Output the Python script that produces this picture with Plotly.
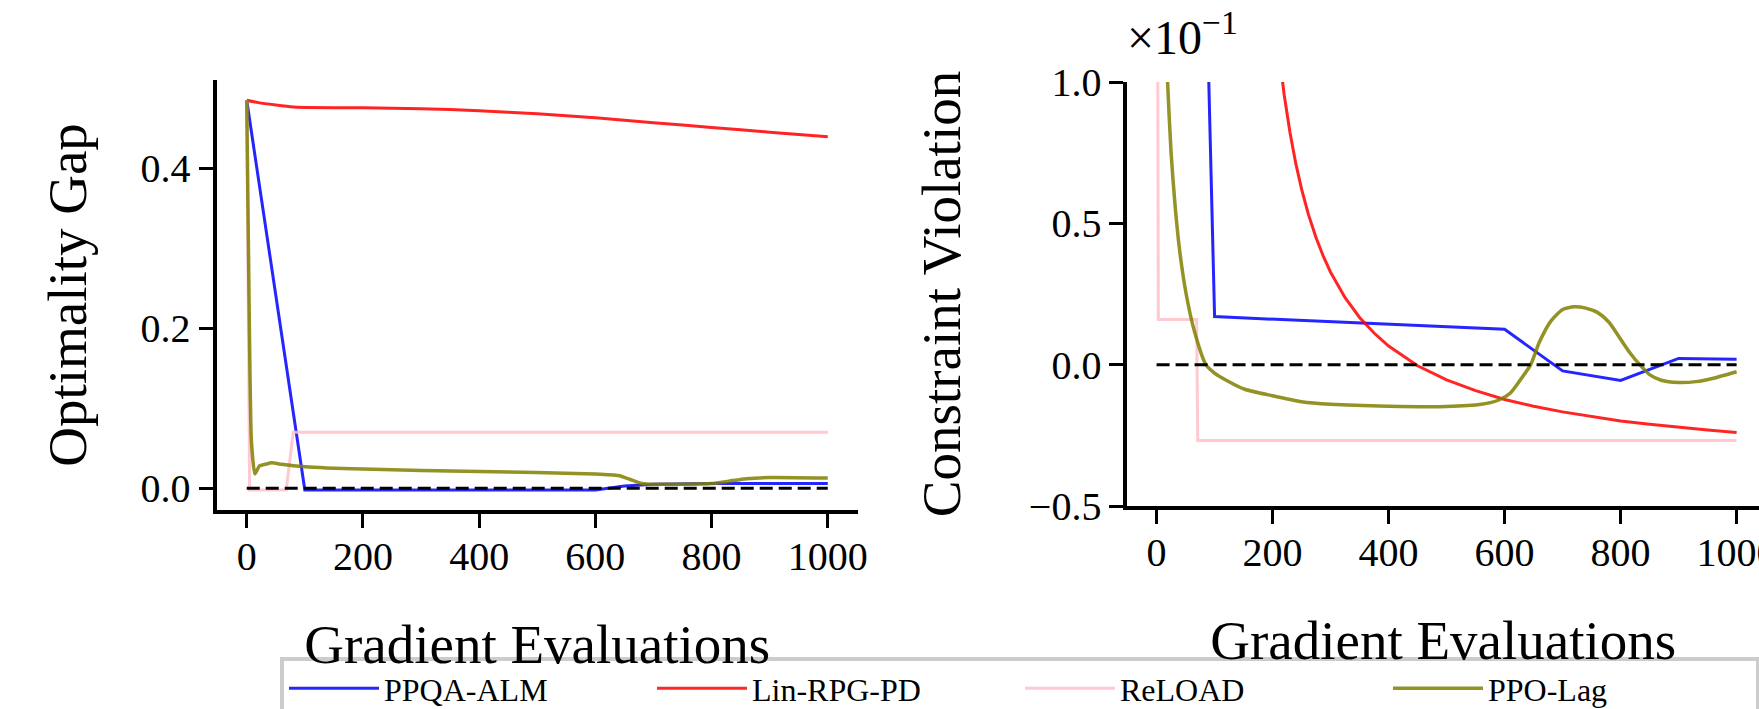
import plotly.graph_objects as go

# ---------------- data ----------------
series_names = ["PPQA-ALM", "Lin-RPG-PD", "ReLOAD", "PPO-Lag"]
series_colors = ["blue", "red", "pink", "olive"]

# Left panel: Optimality Gap
gap_blue_x = [0, 100, 600, 650, 700, 800, 900, 1000]
gap_blue_y = [0.485, -0.002, -0.002, 0.003, 0.005, 0.006, 0.006, 0.006]

gap_red_x = [0, 20, 50, 80, 100, 200, 300, 400, 500, 600, 700, 800, 900, 1000]
gap_red_y = [0.485, 0.482, 0.479, 0.4765, 0.476, 0.4755, 0.4745, 0.472, 0.468, 0.463, 0.457, 0.451, 0.445, 0.4395]

gap_pink_x = [0, 5, 68, 80, 1000]
gap_pink_y = [0.485, -0.002, -0.002, 0.07, 0.07]

gap_olive_x = [0, 3, 8, 14, 22, 32, 43, 60, 100, 200, 400, 600, 640, 660, 680, 700, 800, 830, 860, 900, 1000]
gap_olive_y = [0.485, 0.30, 0.06, 0.018, 0.028, 0.030, 0.032, 0.030, 0.027, 0.024, 0.021, 0.018, 0.016, 0.011,
               0.006, 0.005, 0.006, 0.009, 0.012, 0.0135, 0.0128]

# Right panel: Constraint Violation (values in units of 1e-1)
cv_blue_x = [0, 100, 600, 700, 800, 900, 1000]
cv_blue_y = [8.5, 0.17, 0.125, -0.022, -0.056, 0.022, 0.019]

cv_red_x = [100, 150, 180, 200, 210, 220, 230, 240, 250, 262, 275, 287, 300, 325, 350, 375, 400, 450, 500,
            550, 600, 650, 700, 750, 800, 850, 900, 950, 1000]
cv_red_y = [9.0, 5.7, 2.02, 1.34, 1.12, 0.955, 0.821, 0.712, 0.621, 0.530, 0.449, 0.386, 0.327, 0.237, 0.167,
            0.112, 0.066, -0.004, -0.054, -0.092, -0.123, -0.147, -0.167, -0.184, -0.199, -0.211, -0.222,
            -0.231, -0.240]

cv_pink_x = [0, 3, 69, 71, 1000]
cv_pink_y = [3.0, 0.16, 0.16, -0.268, -0.268]

cv_olive_x = [0, 10, 19, 25, 32, 40, 51, 65, 85, 100, 120, 152, 200, 250, 300, 400, 500, 560, 590, 610,
              625, 645, 660, 680, 700, 720, 740, 760, 780, 800, 815, 833, 850, 870, 900, 930, 960, 1000]
cv_olive_y = [3.0, 1.7, 1.0, 0.75, 0.56, 0.4, 0.25, 0.12, 0.0, -0.03, -0.055, -0.087, -0.11, -0.131, -0.14,
              -0.147, -0.148, -0.14, -0.125, -0.1, -0.06, 0.0, 0.08, 0.155, 0.195, 0.205, 0.2, 0.185, 0.15,
              0.09, 0.045, 0.0, -0.035, -0.055, -0.063, -0.06, -0.048, -0.025]

ref_x = [0, 1000]
ref_y = [0, 0]

gap_ticks = [0.0, 0.2, 0.4]
cv_ticks = [-0.5, 0.0, 0.5, 1.0]
x_ticks = [0, 200, 400, 600, 800, 1000]

# ---------------- figure ----------------
W, H = 1759, 709
fig = go.Figure()

left = [(gap_blue_x, gap_blue_y), (gap_red_x, gap_red_y), (gap_pink_x, gap_pink_y), (gap_olive_x, gap_olive_y)]
right = [(cv_blue_x, cv_blue_y), (cv_red_x, cv_red_y), (cv_pink_x, cv_pink_y), (cv_olive_x, cv_olive_y)]
widths = [3, 3, 3, 3.5]
shapes_l = ["linear", "spline", "linear", "spline"]
shapes_r = ["linear", "linear", "linear", "spline"]

for i, (xs, ys) in enumerate(left):
    fig.add_trace(go.Scatter(x=xs, y=ys, mode="lines", name=series_names[i],
                             line=dict(color=series_colors[i], width=widths[i], shape=shapes_l[i], smoothing=0.5),
                             opacity=0.85, xaxis="x", yaxis="y", showlegend=True))
fig.add_trace(go.Scatter(x=ref_x, y=ref_y, mode="lines", line=dict(color="black", width=3, dash="13px,6px"),
                         xaxis="x", yaxis="y", showlegend=False))

for i, (xs, ys) in enumerate(right):
    fig.add_trace(go.Scatter(x=xs, y=ys, mode="lines", name=series_names[i],
                             line=dict(color=series_colors[i], width=widths[i], shape=shapes_r[i], smoothing=0.6),
                             opacity=0.85, xaxis="x2", yaxis="y2", showlegend=False))
fig.add_trace(go.Scatter(x=ref_x, y=ref_y, mode="lines", line=dict(color="black", width=3, dash="13px,6px"),
                         xaxis="x2", yaxis="y2", showlegend=False))

FONT = "Liberation Serif"
tickfont = dict(family=FONT, size=40, color="black")
titlefont = dict(family=FONT, size=55, color="black")
axis_common = dict(showline=True, linewidth=4, linecolor="black", ticks="outside", ticklen=14,
                   tickwidth=3, tickcolor="black", showgrid=False, zeroline=False, automargin=False,
                   tickfont=tickfont)

fig.update_layout(
    width=W, height=H,
    margin=dict(l=0, r=0, t=0, b=0, autoexpand=False),
    paper_bgcolor="white", plot_bgcolor="white",
    xaxis=dict(domain=[216.5 / W, 858 / W], range=[-52, 1052], tickvals=x_ticks,
               ticklabelstandoff=-6,
               title=dict(text="Gradient Evaluations", font=titlefont, standoff=47),
               anchor="y", **axis_common),
    yaxis=dict(domain=[1 - 510 / H, 1 - 80 / H], range=[-0.0271, 0.5103], tickvals=gap_ticks,
               tickformat=".1f",
               title=dict(text="Optimality Gap", font=titlefont, standoff=37),
               anchor="x", **axis_common),
    xaxis2=dict(domain=[1127.4 / W, 1.0], range=[-50.3, 1038.6], tickvals=x_ticks,
                ticklabelstandoff=-6, ticklabeloverflow="allow",
                title=dict(text="Gradient Evaluations", font=titlefont, standoff=47),
                anchor="y2", **axis_common),
    yaxis2=dict(domain=[1 - 506 / H, 1 - 82 / H], range=[-0.5, 1.0], tickvals=cv_ticks,
                tickformat=".1f",
                title=dict(text="Constraint Violation", font=titlefont, standoff=52),
                anchor="x2", **axis_common),
    legend=dict(orientation="h", x=280 / W, y=1 - 657 / H, xanchor="left", yanchor="top",
                bordercolor="#cccccc", borderwidth=4, bgcolor="white",
                font=dict(family=FONT, size=32, color="black"),
                itemwidth=90, entrywidth=263, entrywidthmode="pixels", tracegroupgap=0),
    annotations=[dict(text="×10<sup>−1</sup>", x=1125 / W, y=1 - 66 / H, xref="paper", yref="paper",
                      xanchor="left", yanchor="bottom", showarrow=False,
                      font=dict(family=FONT, size=48, color="black"))],
)

fig.write_html("out.html")
